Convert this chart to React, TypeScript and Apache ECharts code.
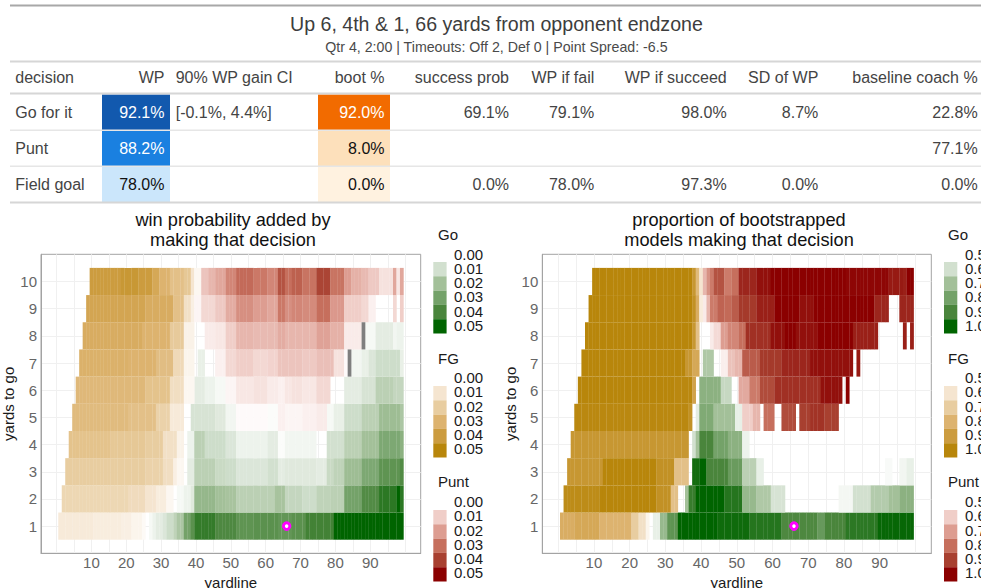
import React, { useEffect, useRef } from "react";
import * as echarts from "echarts";

// ---------- table ----------
const titleText = "Up 6, 4th & 1, 66 yards from opponent endzone";
const subtitleText = "Qtr 4, 2:00 | Timeouts: Off 2, Def 0 | Point Spread: -6.5";
const tableHeaders = ["decision", "WP", "90% WP gain CI", "boot %", "success prob", "WP if fail", "WP if succeed", "SD of WP", "baseline coach %"];
const rowGo = ["Go for it", "92.1%", "[-0.1%, 4.4%]", "92.0%", "69.1%", "79.1%", "98.0%", "8.7%", "22.8%"];
const rowPunt = ["Punt", "88.2%", "", "8.0%", "", "", "", "", "77.1%"];
const rowFg = ["Field goal", "78.0%", "", "0.0%", "0.0%", "78.0%", "97.3%", "0.0%", "0.0%"];
const tableRows = [rowGo, rowPunt, rowFg];
const wpCellColors = ["#1259AE", "#1A80E0", "#CBE6FB"];
const bootCellColors = ["#F26B00", "#FDE0BB", "#FFF2E0"];
const cellTextColors = ["#FFFFFF", "#FFFFFF", "#111111"];
const bootTextColors = ["#FFFFFF", "#111111", "#111111"];

// ---------- heatmap data: each row lists runs [last yardline of run, decision, value] ----------
type Run = [number, string, number];
const wp1: Run[] = [[10,"F",.008],[18,"F",.007],[21,"F",.006],[24,"F",.004],[25,"F",.002],[26,"",0],[27,"G",.002],[28,"G",.004],[30,"G",.006],[31,"G",.008],[33,"G",.011],[34,"G",.014],[36,"G",.018],[38,"G",.030],[39,"G",.036],[45,"G",.043],[51,"G",.039],[56,"G",.035],[63,"G",.036],[67,"G",.034],[71,"G",.036],[79,"G",.041],[99,"G",.05]];
const wp2: Run[] = [[20,"F",.016],[25,"F",.014],[28,"F",.010],[31,"F",.007],[33,"F",.003],[34,"",0],[36,"G",.002],[38,"G",.004],[39,"G",.007],[45,"G",.023],[48,"G",.020],[51,"G",.019],[56,"G",.015],[62,"G",.015],[65,"G",.019],[70,"G",.013],[74,"G",.011],[78,"G",.014],[82,"G",.015],[87,"G",.030],[92,"G",.038],[97,"G",.044],[98,"G",.05],[99,"G",.044]];
const wp3: Run[] = [[25,"F",.020],[30,"F",.018],[33,"F",.013],[34,"F",.006],[36,"F",.003],[37,"",0],[39,"G",.006],[45,"G",.015],[48,"G",.012],[51,"G",.011],[60,"G",.008],[63,"G",.010],[65,"G",.006],[70,"G",.007],[74,"G",.007],[77,"G",.006],[79,"G",.012],[82,"G",.014],[87,"G",.021],[92,"G",.028],[98,"G",.035],[99,"G",.038]];
const wp4: Run[] = [[15,"F",.024],[25,"F",.022],[30,"F",.020],[34,"F",.012],[36,"F",.005],[37,"",0],[39,"G",.004],[42,"G",.015],[48,"G",.011],[51,"G",.008],[56,"G",.004],[60,"G",.004],[63,"G",.006],[65,"G",.001],[70,"G",.003],[74,"G",.003],[77,"",0],[82,"G",.010],[87,"G",.015],[92,"G",.020],[98,"G",.028],[99,"G",.025]];
const wp5: Run[] = [[20,"F",.027],[28,"F",.025],[32,"F",.018],[36,"F",.008],[38,"",0],[45,"G",.009],[48,"G",.007],[51,"G",.003],[60,"P",.001],[63,"G",.001],[65,"P",.003],[70,"P",.002],[74,"P",.003],[77,"P",.004],[79,"G",.002],[82,"G",.005],[87,"G",.011],[92,"G",.015],[98,"G",.021],[99,"G",.018]];
const wp6: Run[] = [[25,"F",.028],[32,"F",.024],[36,"F",.013],[39,"F",.003],[42,"G",.006],[45,"G",.004],[48,"G",.002],[51,"P",.002],[56,"P",.005],[60,"P",.006],[63,"P",.004],[65,"P",.003],[67,"P",.005],[70,"P",.006],[74,"P",.005],[78,"P",.008],[82,"",0],[87,"G",.006],[91,"G",.009],[96,"G",.015],[99,"G",.013]];
const wp7: Run[] = [[20,"F",.031],[28,"F",.030],[33,"F",.026],[36,"F",.015],[39,"F",.004],[40,"",0],[42,"G",.005],[45,"",0],[48,"P",.003],[51,"P",.008],[56,"P",.010],[60,"P",.008],[63,"P",.009],[70,"P",.012],[74,"P",.011],[79,"P",.013],[82,"P",.006],[83,"P",.001],[84,"N",1],[87,"G",.003],[89,"G",.005],[91,"G",.008],[98,"G",.011],[99,"G",.005]];
const wp8: Run[] = [[24,"F",.033],[32,"F",.030],[36,"F",.021],[39,"F",.005],[42,"",0],[45,"P",.004],[48,"P",.005],[51,"P",.010],[56,"P",.015],[63,"P",.014],[65,"P",.017],[74,"P",.015],[78,"P",.019],[82,"P",.016],[87,"P",.004],[88,"N",1],[91,"G",.002],[96,"G",.006],[97,"G",.003],[99,"G",.004]];
const wp9: Run[] = [[25,"F",.036],[33,"F",.033],[36,"F",.025],[38,"F",.012],[39,"F",.006],[41,"P",.002],[45,"P",.008],[48,"P",.011],[51,"P",.017],[56,"P",.023],[60,"P",.020],[63,"P",.018],[65,"P",.028],[67,"P",.023],[70,"P",.025],[74,"P",.024],[78,"P",.030],[82,"P",.021],[87,"P",.010],[89,"P",.008],[91,"P",.003],[96,"",0],[97,"P",.008],[98,"",0],[99,"P",.010]];
const wp10: Run[] = [[18,"F",.040],[23,"F",.042],[27,"F",.040],[29,"F",.035],[32,"F",.030],[36,"F",.025],[38,"F",.022],[39,"F",.010],[41,"F",.003],[43,"P",.012],[45,"P",.015],[48,"P",.018],[51,"P",.025],[56,"P",.031],[60,"P",.028],[63,"P",.025],[65,"P",.036],[67,"P",.030],[70,"P",.033],[74,"P",.029],[78,"P",.039],[82,"P",.029],[84,"P",.020],[87,"P",.016],[89,"P",.014],[92,"P",.011],[96,"P",.006],[97,"P",.018],[98,"P",.005],[99,"P",.018]];
const wpRows = [wp1, wp2, wp3, wp4, wp5, wp6, wp7, wp8, wp9, wp10];

const boot1: Run[] = [[4,"F",.825],[11,"F",.85],[20,"F",.80],[22,"F",.70],[24,"F",.62],[25,"F",.54],[26,"",0],[28,"G",.55],[30,"G",.725],[33,"G",.85],[44,"G",1],[53,"G",.98],[62,"G",.95],[72,"G",.89],[74,"G",.83],[80,"G",.90],[89,"G",.94],[99,"G",.99]];
const boot2: Run[] = [[11,"F",.975],[27,"F",1],[31,"F",.95],[33,"F",.75],[35,"",0],[36,"G",.70],[38,"G",.925],[46,"G",1],[51,"G",.95],[55,"G",.725],[59,"G",.675],[63,"G",.59],[78,"",0],[82,"G",.525],[87,"G",.60],[92,"G",.665],[95,"G",.70],[99,"G",.75]];
const boot3: Run[] = [[12,"F",.925],[27,"F",1],[32,"F",.95],[36,"F",.75],[37,"",0],[39,"G",.975],[41,"G",1],[47,"G",.90],[51,"G",.825],[55,"G",.65],[57,"G",.55],[91,"",0],[93,"G",.515],[95,"",0],[97,"G",.53],[99,"G",.55]];
const boot4: Run[] = [[36,"F",.925],[37,"",0],[38,"G",.60],[39,"G",.70],[43,"G",.90],[47,"G",.80],[51,"G",.75],[53,"G",.54]];
const boot5: Run[] = [[36,"F",.99],[37,"F",.95],[38,"",0],[39,"G",.56],[43,"G",.775],[49,"G",.70],[51,"G",.55],[54,"P",.60],[56,"P",.65],[57,"",0],[60,"P",.80],[62,"",0],[66,"P",.875],[67,"",0],[70,"P",.90],[74,"P",.92],[78,"P",.90]];
const boot6: Run[] = [[32,"F",1],[37,"F",.99],[38,"F",.875],[39,"",0],[45,"G",.75],[48,"G",.625],[50,"",0],[53,"P",.675],[56,"P",.775],[60,"P",.875],[67,"P",.925],[73,"P",.925],[79,"P",.975],[80,"",0],[81,"P",1]];
const boot7: Run[] = [[35,"F",1],[37,"F",.925],[39,"F",.85],[40,"",0],[43,"G",.675],[45,"",0],[47,"P",.535],[49,"P",.625],[51,"P",.65],[56,"P",.84],[62,"P",.91],[70,"P",.94],[82,"P",.975],[83,"",0],[84,"P",.96]];
const boot8: Run[] = [[37,"F",1],[38,"F",.925],[39,"F",.75],[42,"",0],[43,"P",.54],[45,"P",.575],[47,"P",.70],[50,"P",.75],[52,"P",.80],[59,"P",.925],[63,"P",.975],[66,"P",1],[72,"P",.975],[82,"P",1],[89,"P",.95],[96,"",0],[97,"P",.95],[98,"",0],[99,"P",.95]];
const boot9: Run[] = [[37,"F",1],[38,"F",.95],[39,"F",.825],[40,"F",.575],[41,"P",.54],[42,"P",.65],[44,"P",.775],[46,"P",.825],[48,"P",.81],[50,"P",.84],[55,"P",.91],[60,"P",.95],[67,"P",1],[71,"P",.975],[88,"P",1],[92,"P",.94],[95,"",0],[99,"P",.94]];
const boot10: Run[] = [[37,"F",1],[38,"F",.925],[39,"F",.775],[40,"F",.60],[41,"P",.65],[42,"P",.725],[43,"P",.775],[46,"P",.86],[48,"P",.775],[50,"P",.80],[55,"P",.94],[59,"P",.975],[80,"P",1],[92,"P",.99],[96,"P",.96],[97,"P",.95],[99,"P",1]];
const bootRows = [boot1, boot2, boot3, boot4, boot5, boot6, boot7, boot8, boot9, boot10];

const currentYardline = 66;
const currentYardsToGo = 1;
const xTickLabels = [10, 20, 30, 40, 50, 60, 70, 80, 90];
const xGridValues = [0, 5, 10, 15, 20, 25, 30, 35, 40, 45, 50, 55, 60, 65, 70, 75, 80, 85, 90, 95, 100];
const yTickLabels = [1, 2, 3, 4, 5, 6, 7, 8, 9, 10];
const leftLegendLabels = ["0.00", "0.01", "0.02", "0.03", "0.04", "0.05"];
const rightLegendLabels = ["0.5", "0.6", "0.7", "0.8", "0.9", "1.0"];
const legendTitles = ["Go", "FG", "Punt"];
const leftTitle = "win probability added by\nmaking that decision";
const rightTitle = "proportion of bootstrapped\nmodels making that decision";

const goRamp = [[255,255,255],[210,224,207],[163,192,153],[116,162,105],[74,133,60],[0,100,0]];
const fgRamp = [[255,255,255],[245,229,208],[232,205,160],[221,179,111],[204,156,63],[184,134,11]];
const puntRamp = [[255,255,255],[240,206,200],[221,157,145],[198,111,93],[168,64,48],[139,0,0]];
const ramps: Record<string, number[][]> = { G: goRamp, F: fgRamp, P: puntRamp };
const legendCodes = ["G", "F", "P"];
const plotFont = "'Liberation Sans', Arial, sans-serif";
const tableFont = "'Liberation Sans', Arial, sans-serif";

function rampColor(code: string, a: number) {
  if (code === "N") return "#7F7F7F";
  const r = ramps[code];
  const t = Math.max(0, Math.min(1, a)) * 5;
  const i = Math.min(4, Math.floor(t));
  const f = t - i;
  const c = r[i].map((v, k) => Math.round(v + (r[i + 1][k] - v) * f));
  return `rgb(${c[0]},${c[1]},${c[2]})`;
}

function cellsFor(rows: Run[][], code: string, toAlpha: (v: number) => number) {
  const out: number[][] = [];
  rows.forEach((runs, i) => {
    let from = i + 1;
    runs.forEach(([end, c, v]) => {
      if (c === code) for (let x = from; x <= end; x++) out.push([x, i + 1, code === "N" ? 1 : toAlpha(v)]);
      from = end + 1;
    });
  });
  return out;
}

function heatSeries(gridIndex: number, rows: Run[][], toAlpha: (v: number) => number) {
  return ["G", "F", "P", "N"].map((code) => ({
    type: "custom",
    xAxisIndex: gridIndex,
    yAxisIndex: gridIndex,
    encode: { x: 0, y: 1 },
    silent: true,
    data: cellsFor(rows, code, toAlpha),
    renderItem: (_: any, api: any) => {
      const x = api.value(0), y = api.value(1), a = api.value(2);
      const p0 = api.coord([x - 0.5, y + 0.5]);
      const p1 = api.coord([x + 0.5, y - 0.5]);
      return {
        type: "rect",
        shape: { x: p0[0], y: p0[1], width: p1[0] - p0[0] + 0.25, height: p1[1] - p0[1] },
        style: { fill: rampColor(code, a) },
      };
    },
  }));
}

function tableGraphics() {
  const g: any[] = [];
  const hline = (y: number, h: number, fill: string) => g.push({ type: "rect", shape: { x: 10, y, width: 971, height: h }, style: { fill } });
  const colX = [15.3, 164.5, 175.7, 384.5, 509, 594.3, 726.7, 818.3, 977.7];
  const colAlign = ["left", "right", "left", "right", "right", "right", "right", "right", "right"];
  const rowY = [112.5, 148.5, 184.5];
  tableRows.forEach((_, i) => {
    g.push({ type: "rect", shape: { x: 102, y: 94.5 + i * 36, width: 68, height: 35.5 }, style: { fill: wpCellColors[i] } });
    g.push({ type: "rect", shape: { x: 318, y: 94.5 + i * 36, width: 72, height: 35.5 }, style: { fill: bootCellColors[i] } });
  });
  hline(4.5, 2, "#A8A8A8");
  hline(60.5, 2, "#D6D6D6");
  hline(92.5, 2, "#D6D6D6");
  hline(129.5, 1.5, "#E6E6E6");
  hline(165.5, 1.5, "#E6E6E6");
  hline(201.5, 2, "#D6D6D6");
  g.push({ type: "text", x: 496.4, y: 24, style: { text: titleText, font: `19.6px ${tableFont}`, fill: "#3D3D3D", textAlign: "center", textVerticalAlign: "middle" } });
  g.push({ type: "text", x: 496.4, y: 47, style: { text: subtitleText, font: `14.2px ${tableFont}`, fill: "#4A4A4A", textAlign: "center", textVerticalAlign: "middle" } });
  tableHeaders.forEach((h, c) => {
    g.push({ type: "text", x: colX[c], y: 77.5, style: { text: h, font: `16px ${tableFont}`, fill: "#444444", textAlign: colAlign[c], textVerticalAlign: "middle" } });
  });
  tableRows.forEach((row, r) => {
    row.forEach((t, c) => {
      if (!t) return;
      let fill = "#444444";
      if (c === 1) fill = cellTextColors[r];
      if (c === 3) fill = bootTextColors[r];
      g.push({ type: "text", x: colX[c], y: rowY[r], style: { text: t, font: `16px ${tableFont}`, fill, textAlign: colAlign[c], textVerticalAlign: "middle" } });
    });
  });
  return g;
}

function legendGraphics(keyX: number, labelX: number, titleX: number, labels: string[]) {
  const g: any[] = [];
  const titleYs = [234, 358, 481.7];
  const firstLabelYs = [254.3, 377.7, 501.7];
  const firstKeyTops = [262, 386, 510];
  legendTitles.forEach((t, s) => {
    g.push({ type: "text", x: titleX, y: titleYs[s], style: { text: t, font: `15px ${plotFont}`, fill: "#1A1A1A", textAlign: "left", textVerticalAlign: "middle" } });
    labels.forEach((lab, i) => {
      g.push({ type: "text", x: labelX, y: firstLabelYs[s] + i * 14.2, style: { text: lab, font: `15px ${plotFont}`, fill: "#1A1A1A", textAlign: "left", textVerticalAlign: "middle" } });
      if (i > 0) {
        g.push({
          type: "rect",
          shape: { x: keyX, y: firstKeyTops[s] + (i - 1) * 14.3, width: 13.3, height: 14.3 },
          style: { fill: rampColor(legendCodes[s], i / 5) },
        });
      }
    });
  });
  return g;
}

function plotTitle(text: string, x: number) {
  return {
    type: "text", x, y: 230,
    style: { text, font: `18.2px ${plotFont}`, fill: "#111111", textAlign: "center", textVerticalAlign: "middle", lineHeight: 19.5 },
  };
}

function xAxisOpt(gridIndex: number) {
  return {
    type: "value", gridIndex, min: -4.45, max: 104.45,
    name: "yardline", nameLocation: "middle", nameGap: 20,
    nameTextStyle: { fontFamily: plotFont, fontSize: 15, color: "#1A1A1A" },
    axisLine: { show: true, onZero: false, lineStyle: { color: "#A3A3A3", width: 1 } },
    axisTick: { show: false, customValues: xGridValues },
    axisLabel: { customValues: xTickLabels, fontFamily: plotFont, fontSize: 15, color: "#666666", margin: 2, hideOverlap: false },
    splitLine: { show: true, lineStyle: { color: "#F0F0F0", width: 1 } },
  };
}

function yAxisOpt(gridIndex: number) {
  return {
    type: "value", gridIndex, min: 0, max: 11,
    name: "yards to go", nameLocation: "middle", nameGap: 23,
    nameTextStyle: { fontFamily: plotFont, fontSize: 15, color: "#1A1A1A" },
    axisLine: { show: true, onZero: false, lineStyle: { color: "#A3A3A3", width: 1 } },
    axisTick: { show: false, customValues: yTickLabels },
    axisLabel: { customValues: yTickLabels, fontFamily: plotFont, fontSize: 15, color: "#666666", margin: 4 },
    splitLine: { show: true, lineStyle: { color: "#F0F0F0", width: 1 } },
  };
}

function pointSeries(gridIndex: number) {
  return {
    type: "scatter", xAxisIndex: gridIndex, yAxisIndex: gridIndex, silent: true, z: 5,
    symbol: "circle", symbolSize: 6.5,
    itemStyle: { color: "#FFFFFF", borderColor: "#FF00FF", borderWidth: 3, opacity: 1 },
    data: [[currentYardline, currentYardsToGo]],
  };
}

export default function App() {
  const ref = useRef<HTMLDivElement>(null);
  useEffect(() => {
    document.body.style.margin = "0";
    const chart = echarts.init(ref.current!, undefined, { renderer: "svg" });
    chart.setOption({
      animation: false,
      backgroundColor: "#FFFFFF",
      grid: [
        { left: 41, top: 254.3, width: 379.7, height: 299, containLabel: false, outerBoundsMode: "none", show: true, borderColor: "#A3A3A3", borderWidth: 1, backgroundColor: "transparent" },
        { left: 542.3, top: 254.3, width: 389, height: 299, containLabel: false, outerBoundsMode: "none", show: true, borderColor: "#A3A3A3", borderWidth: 1, backgroundColor: "transparent" },
      ],
      xAxis: [xAxisOpt(0), xAxisOpt(1)],
      yAxis: [yAxisOpt(0), yAxisOpt(1)],
      series: [
        ...heatSeries(0, wpRows, (v) => Math.min(v / 0.05, 1)),
        ...heatSeries(1, bootRows, (v) => Math.max((v - 0.5) / 0.5, 0)),
        pointSeries(0),
        pointSeries(1),
      ],
      graphic: [
        ...tableGraphics(),
        plotTitle(leftTitle, 233),
        plotTitle(rightTitle, 739),
        ...legendGraphics(433.3, 454, 438, leftLegendLabels),
        ...legendGraphics(944, 965, 948, rightLegendLabels),
      ],
    });
    return () => chart.dispose();
  }, []);
  return <div ref={ref} style={{ position: "absolute", left: 0, top: 0, width: 981, height: 588, overflow: "hidden" }} />;
}
